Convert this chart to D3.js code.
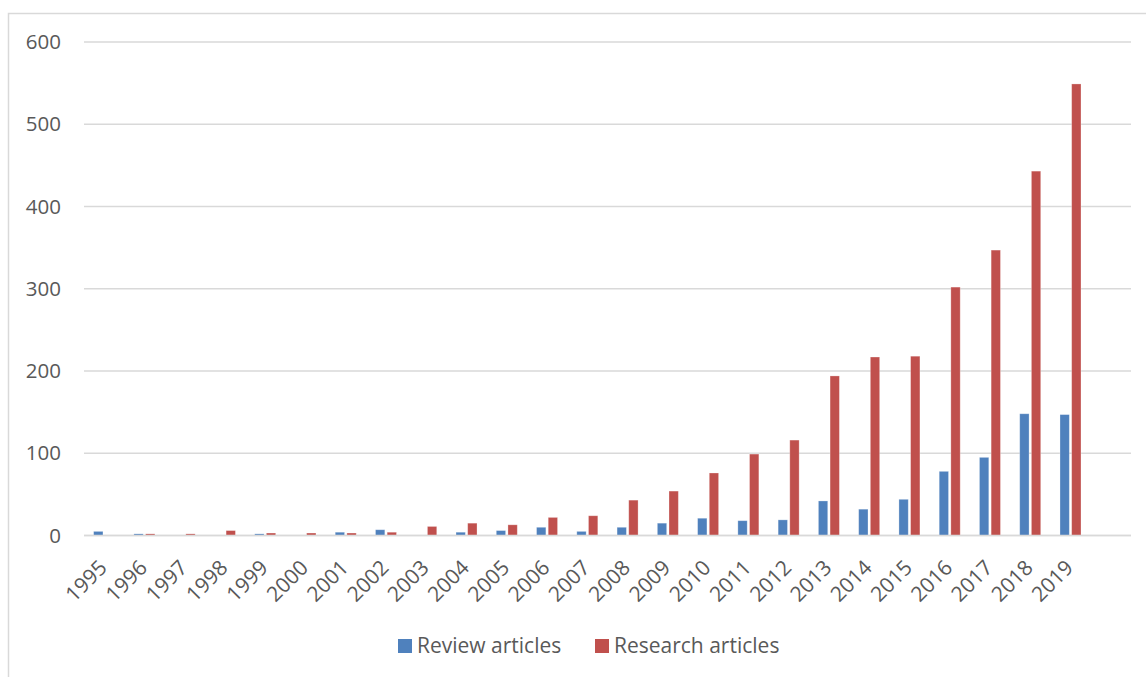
<!DOCTYPE html>
<html>
<head>
<meta charset="utf-8">
<script src="https://cdn.jsdelivr.net/npm/d3@7"></script>
<style>
  html, body { margin: 0; padding: 0; background: #fff; }
  svg { display: block; }
  text { font-family: "Open Sans", sans-serif; fill: #595959; }
</style>
</head>
<body>
<svg id="chart" width="1146" height="677"></svg>
<script>
const years = ["1995","1996","1997","1998","1999","2000","2001","2002","2003","2004","2005","2006","2007","2008","2009","2010","2011","2012","2013","2014","2015","2016","2017","2018","2019"];
const reviewArticles   = [5, 2, 0, 0, 2, 0, 4, 7, 0, 4, 6, 10, 5, 10, 15, 21, 18, 19, 42, 32, 44, 78, 95, 148, 147];
const researchArticles = [0, 2, 2, 6, 3, 3, 3, 4, 11, 15, 13, 22, 24, 43, 54, 76, 99, 116, 194, 217, 218, 302, 347, 443, 549];
const seriesNames = ["Review articles", "Research articles"];
const seriesColors = ["#4f81bd", "#c0504d"];
const yTicks = [0, 100, 200, 300, 400, 500, 600];

const svg = d3.select("#chart");

// chart border
svg.append("rect")
  .attr("x", 8.5).attr("y", 13.5)
  .attr("width", 1200).attr("height", 700)
  .attr("fill", "none").attr("stroke", "#d9d9d9").attr("stroke-width", 1.5);

const left = 84, gridRight = 1131;
const band = 40.265;
const x = d3.scaleBand().domain(years).range([left, left + band * years.length]);
const y = d3.scaleLinear().domain([0, 600]).range([535.5, 42]);
const xSub = d3.scaleBand().domain(seriesNames).range([-10.5, 10.5]).paddingInner(0.2);

// gridlines
svg.append("g").selectAll("line").data(yTicks).join("line")
  .attr("x1", left).attr("x2", gridRight)
  .attr("y1", d => y(d)).attr("y2", d => y(d))
  .attr("stroke", "#d9d9d9").attr("stroke-width", 1.5);

// y axis labels
const yAxis = d3.axisLeft(y).tickValues(yTicks).tickSize(0).tickPadding(0);
const yg = svg.append("g").attr("transform", "translate(61,0)").call(yAxis);
yg.select(".domain").remove();
yg.selectAll("text").attr("font-size", 20.5).style("font-family", "'Open Sans', sans-serif").attr("fill", "#595959");

// bars
const table = years.map((yr, i) => ({ year: yr, values: [reviewArticles[i], researchArticles[i]] }));
const groups = svg.append("g").selectAll("g").data(table).join("g")
  .attr("transform", d => `translate(${x(d.year) + x.bandwidth() / 2},0)`);
groups.selectAll("rect").data(d => d.values.map((v, k) => ({ v, k })).filter(o => o.v > 0)).join("rect")
  .attr("x", o => xSub(seriesNames[o.k]))
  .attr("width", xSub.bandwidth())
  .attr("y", o => y(o.v))
  .attr("height", o => y(0) - y(o.v))
  .attr("fill", o => seriesColors[o.k])
  .attr("stroke", "#ffffff").attr("stroke-opacity", 0.35).attr("stroke-width", 0.8);

// baseline redraw on top
svg.append("line")
  .attr("x1", left).attr("x2", gridRight)
  .attr("y1", y(0)).attr("y2", y(0))
  .attr("stroke", "#d9d9d9").attr("stroke-width", 1.5);

// x axis labels
const xAxis = d3.axisBottom(x).tickSize(0).tickPadding(0);
const xg = svg.append("g").call(xAxis);
xg.select(".domain").remove();
xg.selectAll(".tick").attr("transform", d => `translate(${x(d) + x.bandwidth() / 2 + 4},569)`);
xg.selectAll("text")
  .attr("y", 0).attr("dy", 0).attr("x", 0)
  .attr("transform", "rotate(-45)")
  .attr("text-anchor", "end")
  .attr("font-size", 21)
  .style("font-family", "'Open Sans', sans-serif")
  .attr("fill", "#595959");

// legend
const legendX = [398, 595];
const lg = svg.append("g").selectAll("g").data(seriesNames).join("g")
  .attr("transform", (d, i) => `translate(${legendX[i]},0)`);
lg.append("rect").attr("x", 0).attr("y", 639).attr("width", 14).attr("height", 14)
  .attr("fill", (d, i) => seriesColors[i]);
lg.append("text").attr("x", 19).attr("y", 653).attr("font-size", 21).text(d => d);
</script>
</body>
</html>
